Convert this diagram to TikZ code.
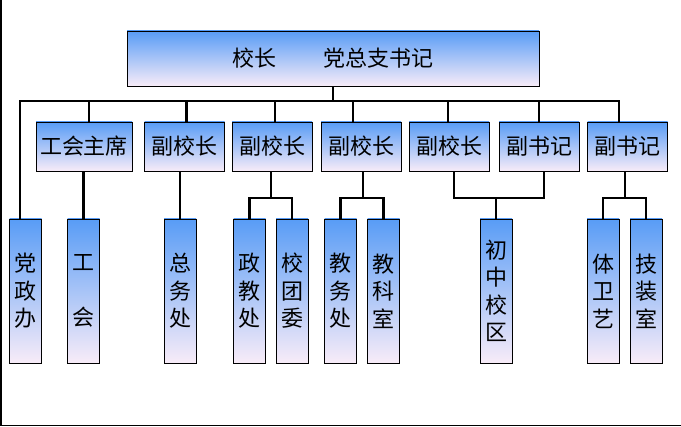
\documentclass[tikz,border=0pt]{standalone}
\usepackage{fontspec}
\newfontfamily\cjk{Noto Sans CJK SC}
\usepackage{tikz}

\definecolor{boxtop}{RGB}{88,156,246}
\definecolor{boxbot}{RGB}{248,236,248}

\tikzset{
  box/.style={draw, line width=0.8pt, top color=boxtop, bottom color=boxbot,
    inner sep=0pt, font=\cjk\fontsize{22}{27.5}\selectfont},
  head/.style={box, minimum width=412pt, minimum height=55pt},
  post/.style={box, minimum width=80pt, minimum height=49pt},
  dept/.style={box, minimum width=32pt, minimum height=144pt, align=center},
  link/.style={line width=2.5pt}
}

\begin{document}
\begin{tikzpicture}[x=1pt,y=-1pt]
      \useasboundingbox (0,0) rectangle (681,427);
      % frame
      \draw[line width=1.5pt] (0.75,0) -- (0.75,425.5) -- (681,425.5);

      \node[head] (top) at (333,58.5) {校长\hspace{48pt}党总支书记};

      \node[post, minimum width=96pt] (m1) at (84,146.5) {工会主席};
      \node[post] (m2) at (184.5,146.5) {副校长};
      \node[post] (m3) at (272,146.5) {副校长};
      \node[post] (m4) at (361,146.5) {副校长};
      \node[post] (m5) at (449,146.5) {副校长};
      \node[post] (m6) at (539,146.5) {副书记};
      \node[post] (m7) at (627.5,146.5) {副书记};

      \node[dept] (b1) at (25.5,291) {党\\政\\办};
      \node[dept] (b2) at (83.5,291) {工\\~\\会};
      \node[dept] (b3) at (180,291) {总\\务\\处};
      \node[dept] (b4) at (249.5,291) {政\\教\\处};
      \node[dept] (b5) at (292,291) {校\\团\\委};
      \node[dept] (b6) at (340.5,291) {教\\务\\处};
      \node[dept] (b7) at (383.5,291) {教\\科\\室};
      \node[dept] (b8) at (496,291) {初\\中\\校\\区};
      \node[dept] (b9) at (603,291) {体\\卫\\艺};
      \node[dept] (b10) at (646,291) {技\\装\\室};

      \coordinate (busL) at (20,101);
      \coordinate (busR) at (619,101);
      \coordinate (fork) at (0,198);

      % bus
      \draw[link] (top.south) -- (top.south |- busL);
      \draw[link] (b1.north -| busL) -- (busL) -- (busR) -- (busR |- m7.north);
      \foreach \m/\dx in {m1/5, m2/2, m3/3, m4/-8, m5/-1, m6/0}
        \draw[link] ([xshift=\dx pt]\m.north) -- ([xshift=\dx pt]\m.north |- busL);

      % lower links
      \draw[link] (b2.north) -- (b2.north |- m1.south);
      \draw[link] (b3.north) -- (b3.north |- m2.south);
      \draw[link] ([xshift=-1pt]m3.south) -- ([xshift=-1pt]m3.south |- fork);
      \draw[link] (b4.north) -- (b4.north |- fork) -- (b5.north |- fork) -- (b5.north);
      \draw[link] ([xshift=2pt]m4.south) -- ([xshift=2pt]m4.south |- fork);
      \draw[link] (b6.north) -- (b6.north |- fork) -- (b7.north |- fork) -- (b7.north);
      \draw[link] ([xshift=5pt]m5.south) -- ([xshift=5pt]m5.south |- fork)
        -- ([xshift=5pt]m6.south |- fork) -- ([xshift=5pt]m6.south);
      \draw[link] (b8.north) -- (b8.north |- fork);
      \draw[link] ([xshift=-2.5pt]m7.south) -- ([xshift=-2.5pt]m7.south |- fork);
      \draw[link] (b9.north) -- (b9.north |- fork) -- (b10.north |- fork) -- (b10.north);
\end{tikzpicture}
\end{document}
